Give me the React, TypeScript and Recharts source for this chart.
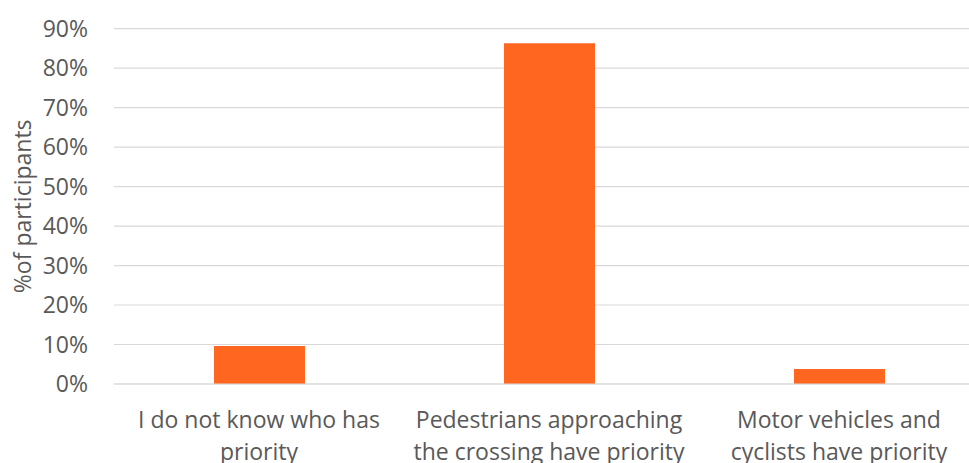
import { BarChart, Bar, XAxis, YAxis, CartesianGrid } from "recharts"

const categories = [
  ["I do not know who has", "priority"],
  ["Pedestrians approaching", "the crossing have priority"],
  ["Motor vehicles and", "cyclists have priority"],
]
const shares = [0.096, 0.863, 0.038]
const yTicks = [0, 0.1, 0.2, 0.3, 0.4, 0.5, 0.6, 0.7, 0.8, 0.9]

const data = categories.map((lines, i) => ({ key: lines.join(" "), share: shares[i] }))

const FONT = "'Open Sans', sans-serif"
const TEXT = "#595959"
const SIZE = 23

function CategoryTick({ x, y, payload }: any) {
  const lines = categories[payload.index] ?? [payload.value]
  return (
    <text x={x} y={y} textAnchor="middle" fill={TEXT} fontSize={SIZE} fontFamily={FONT}>
      {lines.map((line, i) => (
        <tspan key={i} x={x} dy={i === 0 ? 36 : 32}>
          {line}
        </tspan>
      ))}
    </text>
  )
}

function AxisTitle({ viewBox }: any) {
  const cy = viewBox.y + viewBox.height / 2
  return (
    <text
      x={22}
      y={cy}
      transform={`rotate(-90, 22, ${cy})`}
      textAnchor="middle"
      dominantBaseline="central"
      fill={TEXT}
      fontSize={SIZE}
      fontFamily={FONT}
    >
      %of participants
    </text>
  )
}

export default function App() {
  return (
    <div style={{ position: "absolute", left: 0, top: 0, width: 969, height: 463, overflow: "hidden", background: "#fff" }}>
      <BarChart width={1000} height={500} data={data} margin={{ top: 28.6, right: 16, bottom: 0, left: 0 }}>
        <CartesianGrid vertical={false} stroke="#d9d9d9" strokeWidth={1.2} />
        <XAxis
          dataKey="key"
          axisLine={{ stroke: "#d9d9d9" }}
          tickLine={false}
          tick={<CategoryTick />}
          height={116}
          interval={0}
        />
        <YAxis
          domain={[0, 0.9]}
          ticks={yTicks}
          axisLine={false}
          tickLine={false}
          tickSize={0}
          tickMargin={26}
          width={114}
          tick={{ fill: TEXT, fontSize: SIZE, fontFamily: FONT }}
          tickFormatter={(v) => `${Math.round(v * 100)}%`}
          label={<AxisTitle />}
        />
        <Bar dataKey="share" fill="#ff6620" barSize={91} isAnimationActive={false} />
      </BarChart>
    </div>
  )
}
